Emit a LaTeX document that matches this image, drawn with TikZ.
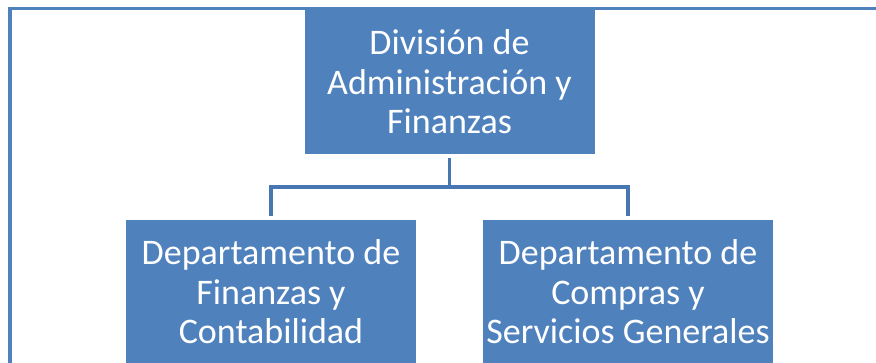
\documentclass[tikz,border=0pt]{standalone}
\usepackage{fontspec}
\setmainfont{Carlito}
\definecolor{boxblue}{HTML}{4F81BD}
\definecolor{lineblue}{HTML}{4677B2}

\begin{document}
\begin{tikzpicture}[x=1pt, y={(0pt,-1pt)},
unitbox/.style={draw=none, fill=boxblue, text=white, align=center,
    minimum width=290pt, minimum height=144pt, inner sep=0pt,
    font=\fontsize{36}{39.5}\selectfont},
conn/.style={draw=lineblue, line width=3.6pt, shorten <=3.5pt, shorten >=4pt}]
\useasboundingbox (0,0) rectangle (876,362);
\clip (0,0) rectangle (876,362);
% frame
\draw[boxblue, line width=3.6pt] (10,8.5) rectangle (900,400);
% boxes
\node[unitbox] (div) at (449.5,82) {División de\\Administración y\\Finanzas};
\node[unitbox] (fin) at (271,292) {Departamento de\\Finanzas y\\Contabilidad};
\node[unitbox] (com) at (628,292) {Departamento de\\Compras y\\Servicios Generales};
% connectors
\draw[conn] (div.south) -- ++(0,33) -| (fin.north);
\draw[conn] (div.south) -- ++(0,33) -| (com.north);
\end{tikzpicture}
\end{document}
